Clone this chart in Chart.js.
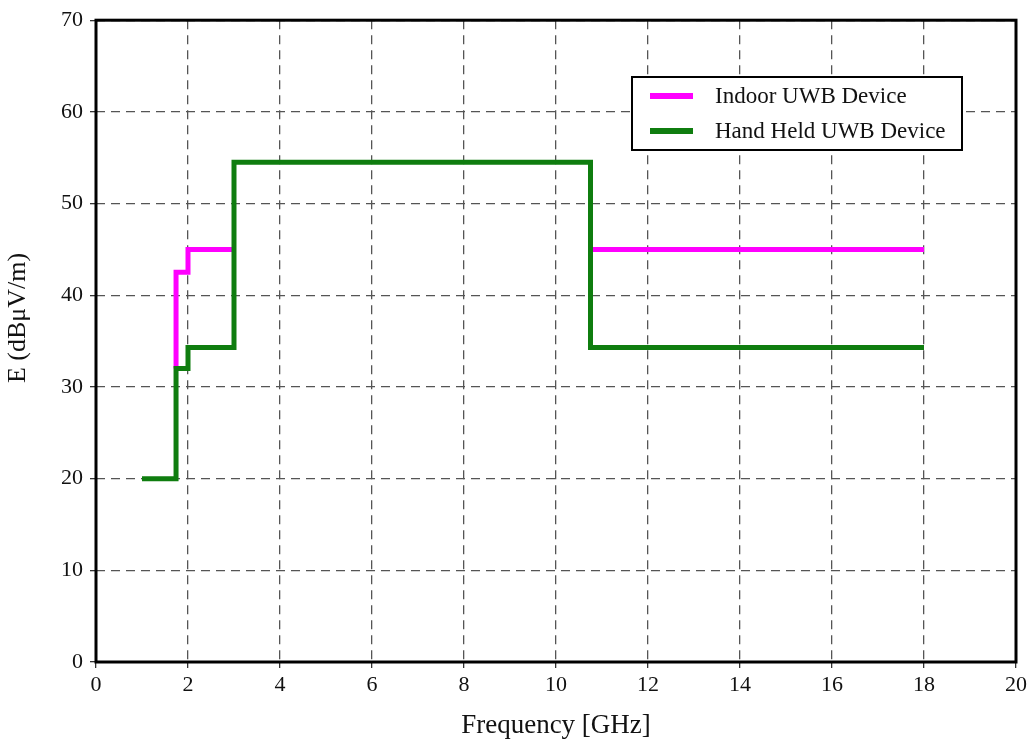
<!DOCTYPE html>
<html>
<head>
<meta charset="utf-8">
<script src="https://cdn.jsdelivr.net/npm/chart.js@4"></script>
<style>
  body { margin: 0; background: #fff; }
</style>
</head>
<body>
<canvas id="chart" width="1031" height="742"></canvas>
<script>
// step corners (horizontal first, then vertical)
const indoorFreq = [1.74, 1.74, 2, 3, 6, 10.75, 18];
const indoorE = [32, 42.5, 45, 45, null, 45, 45];
const handFreq = [1, 1.74, 2, 3, 10.75, 18];
const handE = [20, 32, 34.3, 54.5, 34.3, 34.3];

const xTicks = [0, 2, 4, 6, 8, 10, 12, 14, 16, 18, 20];
const yTicks = [0, 10, 20, 30, 40, 50, 60, 70];
const yTitle = 'E (dBμV/m)';

const serif = "'Liberation Serif', 'Times New Roman', serif";

function toPoints(xs, ys) {
    return xs.map((x, i) => ({ x: x, y: ys[i] }));
}

const frameAndLegend = {
    id: 'frameAndLegend',
    afterDraw(chart) {
        const ctx = chart.ctx;
        const a = chart.chartArea;
        ctx.save();
        ctx.setLineDash([]);
        ctx.strokeStyle = '#000';
        ctx.lineWidth = 3;
        ctx.strokeRect(a.left, a.top, a.right - a.left, a.bottom - a.top);

        // y axis title, sits a bit above the plot centre in the original
        ctx.save();
        ctx.translate(18, 318);
        ctx.rotate(-Math.PI / 2);
        ctx.font = '26px ' + serif;
        ctx.fillStyle = '#111';
        ctx.textAlign = 'center';
        ctx.textBaseline = 'middle';
        ctx.fillText(yTitle, 0, 0);
        ctx.restore();

        // legend box
        const bx = 632, by = 77, bw = 330, bh = 73;
        ctx.fillStyle = '#fff';
        ctx.fillRect(bx, by, bw, bh);
        ctx.lineWidth = 2;
        ctx.strokeRect(bx, by, bw, bh);
        ctx.font = '23px ' + serif;
        ctx.textBaseline = 'middle';
        const rows = [96, 131];
        chart.data.datasets.forEach((ds, i) => {
            ctx.strokeStyle = ds.borderColor;
            ctx.lineWidth = 6;
            ctx.beginPath();
            ctx.moveTo(650, rows[i]);
            ctx.lineTo(693, rows[i]);
            ctx.stroke();
            ctx.fillStyle = '#111';
            ctx.fillText(ds.label, 715, rows[i] + 1);
        });
        ctx.restore();
    }
};

const ctx = document.getElementById('chart');
const myChart = new Chart(ctx, {
    type: 'line',
    data: {
        datasets: [{
            label: 'Indoor UWB Device',
            data: toPoints(indoorFreq, indoorE),
            borderColor: '#ff00ff',
            borderWidth: 5,
            stepped: 'before',
            pointRadius: 0,
            order: 2
        }, {
            label: 'Hand Held UWB Device',
            data: toPoints(handFreq, handE),
            borderColor: '#0f7d0f',
            borderWidth: 5,
            stepped: 'before',
            pointRadius: 0,
            order: 1
        }]
    },
    options: {
        responsive: false,
        devicePixelRatio: 1,
        animation: false,
        layout: { padding: { left: 0, top: 20, right: 13, bottom: 0 } },
        plugins: {
            legend: { display: false },
            tooltip: { enabled: false }
        },
        scales: {
            x: {
                type: 'linear',
                min: 0,
                max: 20,
                afterFit(scale) { scale.height = 80; },
                afterBuildTicks(scale) { scale.ticks = xTicks.map(v => ({ value: v })); },
                ticks: {
                    color: '#111',
                    font: { family: serif, size: 22 },
                    padding: 4,
                    maxRotation: 0
                },
                grid: {
                    color: '#555',
                    lineWidth: 1.3,
                    tickLength: 6,
                    tickColor: '#333',
                    tickBorderDash: []
                },
                border: { display: false, dash: [9, 6] },
                title: {
                    display: true,
                    text: 'Frequency [GHz]',
                    color: '#111',
                    font: { family: serif, size: 27 },
                    padding: { top: 0, bottom: 0 }
                }
            },
            y: {
                min: 0,
                max: 70,
                afterFit(scale) { scale.width = 96; },
                afterBuildTicks(scale) { scale.ticks = yTicks.map(v => ({ value: v })); },
                ticks: {
                    color: '#111',
                    font: { family: serif, size: 22 },
                    padding: 7
                },
                grid: {
                    color: '#555',
                    lineWidth: 1.3,
                    tickLength: 6,
                    tickColor: '#333',
                    tickBorderDash: []
                },
                border: { display: false, dash: [9, 6] }
            }
        }
    },
    plugins: [frameAndLegend]
});
</script>
</body>
</html>
